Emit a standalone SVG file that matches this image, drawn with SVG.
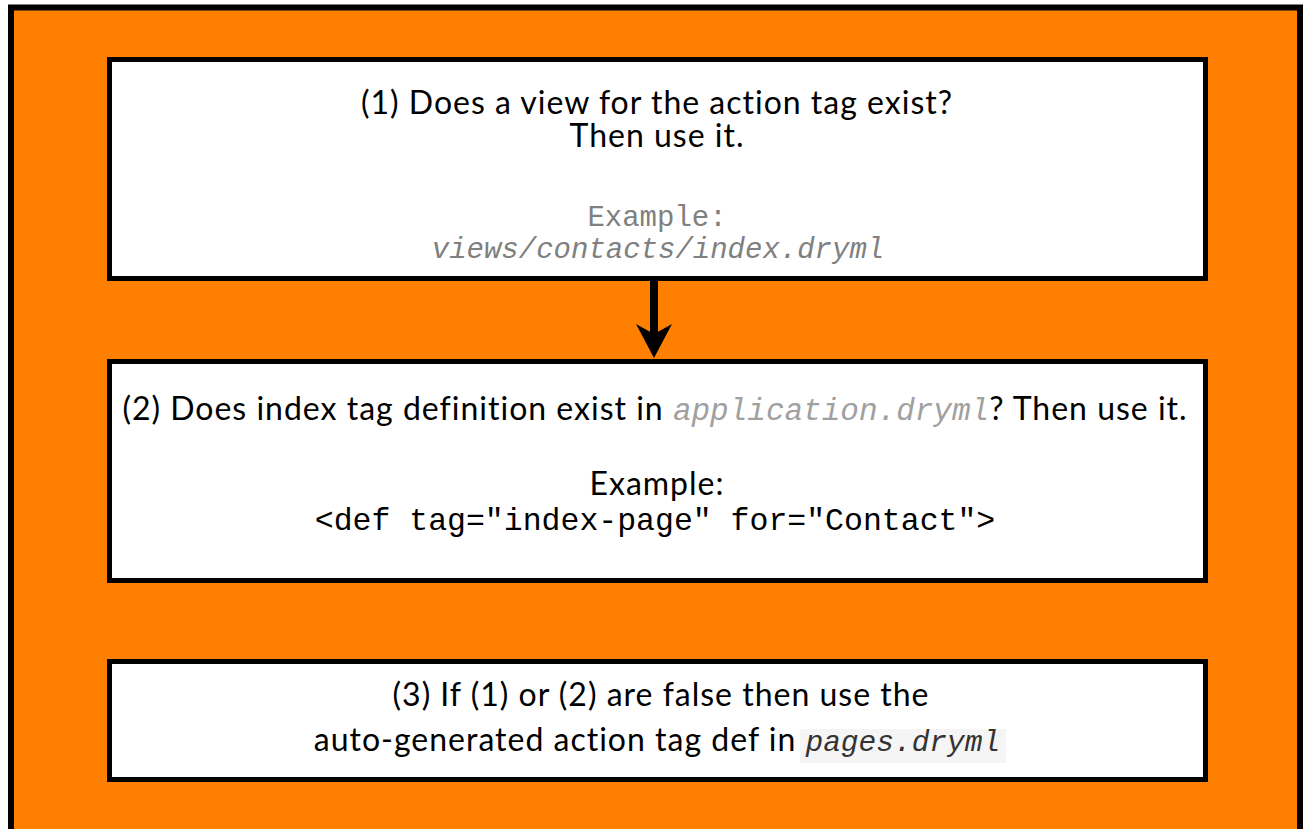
<svg xmlns="http://www.w3.org/2000/svg" width="1303" height="829" viewBox="0 0 1303 829">
  <style>
    .box { fill: #ffffff; stroke: #000000; stroke-width: 5; }
    .sans { font-family: Lato, "Open Sans", "Liberation Sans", sans-serif; font-size: 32px; letter-spacing: 1px; fill: #000000; }
    .mono { font-family: "Liberation Mono", "DejaVu Sans Mono", monospace; letter-spacing: 0; }
    .gray { fill: #808080; }
    .lgray { fill: #a0a0a0; }
  </style>
  <defs>
    <marker id="arrow" markerUnits="userSpaceOnUse" viewBox="0 0 34 36" markerWidth="34" markerHeight="36" refX="16" refY="18" orient="auto">
      <path d="M0,0 L34,18 L0,36 L10,18 Z" fill="#000000"/>
    </marker>
  </defs>
  <rect id="frame" x="11" y="7.5" width="1289" height="900" fill="#FF8000" stroke="#000000" stroke-width="6"/>

  <g id="node1">
    <rect class="box" x="109.5" y="59.5" width="1096" height="219"/>
    <text class="sans" x="657" y="114" text-anchor="middle">(1) Does a view for the action tag exist?</text>
    <text class="sans" x="657" y="147" text-anchor="middle">Then use it.</text>
    <text class="mono gray" x="657" y="226" text-anchor="middle" font-size="29">Example:</text>
    <text class="mono gray" x="658" y="258" text-anchor="middle" font-size="29" font-style="italic">views/contacts/index.dryml</text>
  </g>

  <g id="node2">
    <rect class="box" x="109.5" y="361.5" width="1096" height="219"/>
    <text class="sans" x="655" y="420" text-anchor="middle">(2) Does index tag definition exist in <tspan class="mono lgray" font-size="31" font-style="italic">application.dryml</tspan>? Then use it.</text>
    <text class="sans" x="657" y="495" text-anchor="middle">Example:</text>
    <text class="mono" x="655" y="530" text-anchor="middle" font-size="31.5" fill="#000000">&lt;def tag="index-page" for="Contact"&gt;</text>
  </g>

  <g id="node3">
    <rect class="box" x="109.5" y="661.5" width="1096" height="118"/>
    <rect x="800" y="729" width="206" height="34" fill="#f5f5f5"/>
    <text class="sans" x="661" y="706" text-anchor="middle">(3) If (1) or (2) are false then use the</text>
    <text class="sans" x="657" y="751" text-anchor="middle">auto-generated action tag def in <tspan class="mono" font-size="29.5" font-style="italic" fill="#333333">pages.dryml</tspan></text>
  </g>

  <g id="connectors">
    <line x1="654" y1="281" x2="654" y2="340" stroke="#000000" stroke-width="8" marker-end="url(#arrow)"/>
  </g>
</svg>
